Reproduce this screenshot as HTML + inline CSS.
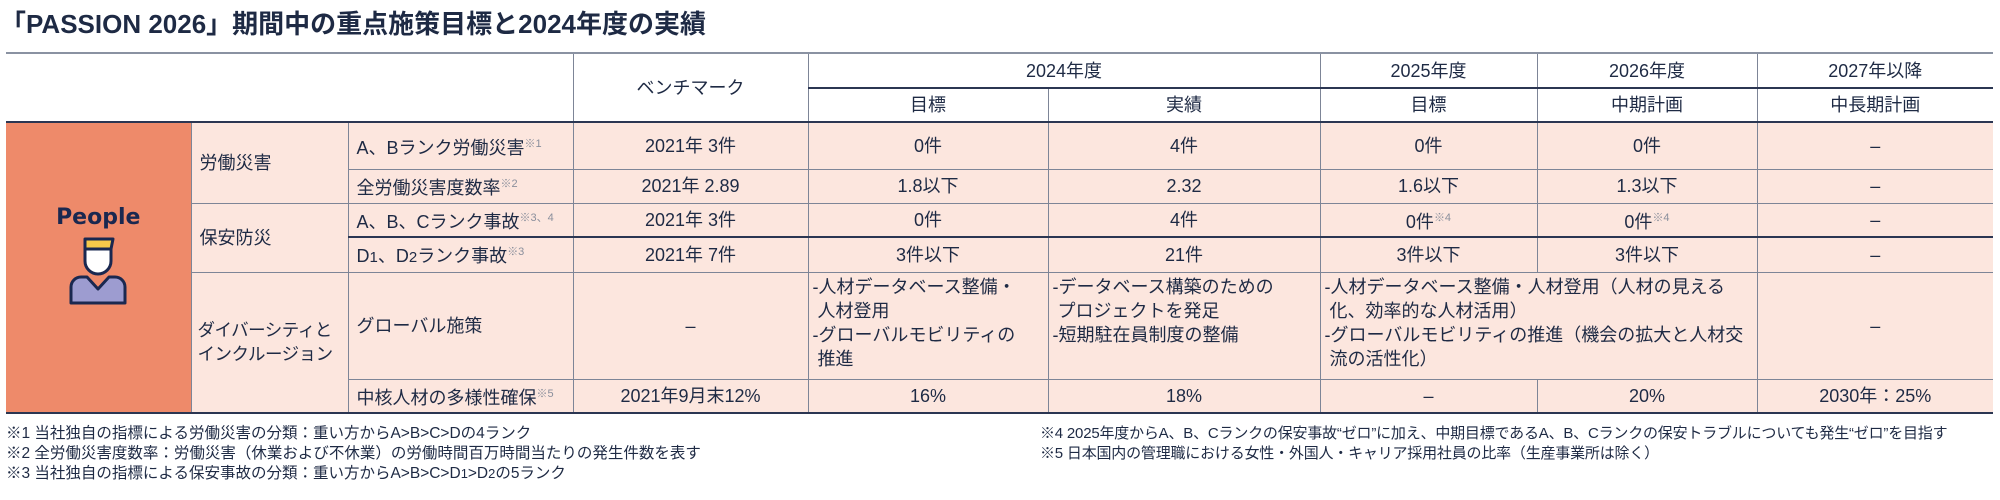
<!DOCTYPE html>
<html><head><meta charset="utf-8"><style>
*{margin:0;padding:0;box-sizing:border-box}
body{width:2000px;height:500px;background:#fff;font-family:"Liberation Sans","Noto Sans CJK JP",sans-serif;color:#1e2a44;position:relative;overflow:hidden}
.title{position:absolute;left:0px;top:4px;font-size:26px;font-weight:bold;white-space:nowrap}
table{position:absolute;left:6px;top:52px;border-collapse:collapse;table-layout:fixed;font-size:18px}
td{border:1px solid #7d8597;text-align:center;vertical-align:middle;padding:0 6px;line-height:22px;white-space:nowrap;overflow:hidden}
tr.h td{background:#fff}
tr.h1 td{border-top:2px solid #8a92a2}
tr.h2 td{border-bottom:2px solid #2b3652;border-top:2px solid #2b3652}
.b td{background:#fce6de}
td.l{text-align:left;padding-left:8px}
td.t{text-align:left;vertical-align:top;padding-top:2px;padding-left:4px;white-space:normal;line-height:24px}
td.ppl{background:#ee8a6a;border-bottom:2px solid #2b3652}
tr.last td{border-bottom:2px solid #2b3652}
tr.dk td{border-top:2px solid #2b3652}
sup{font-size:11px;color:#8a8f9c;vertical-align:7px}
.fn{position:absolute;font-size:15.5px;line-height:20px;white-space:nowrap}
</style></head><body>
<div class="title">「PASSION 2026」期間中の重点施策目標と2024年度の実績</div>
<table>
<colgroup><col style="width:185px"><col style="width:157px"><col style="width:225px"><col style="width:235px"><col style="width:240px"><col style="width:272px"><col style="width:217px"><col style="width:220px"><col style="width:236px"></colgroup>
<tr class="h h1" style="height:35px"><td colspan="3" rowspan="2" style="border-left:none;border-bottom:2px solid #2b3652"></td><td rowspan="2" style="border-bottom:2px solid #2b3652">ベンチマーク</td><td colspan="2">2024年度</td><td>2025年度</td><td>2026年度</td><td style="border-right:none">2027年以降</td></tr>
<tr class="h h2" style="height:34px"><td>目標</td><td>実績</td><td>目標</td><td>中期計画</td><td style="border-right:none">中長期計画</td></tr>
<tr class="b" style="height:47px"><td class="ppl" rowspan="6" style="border-left:none;vertical-align:top;padding-top:84px">
<div style="font-weight:bold;font-size:22px;color:#1a2850;font-family:'DejaVu Sans','Liberation Sans',sans-serif">People</div>
<svg width="70" height="75" viewBox="0 0 70 75" style="margin-top:6px"><path d="M22 4 H50 L48 14 H22 Z" fill="#f6c94a" stroke="#1a2850" stroke-width="3" stroke-linejoin="round"/><path d="M22 14 H48 V26 A13 13 0 0 1 22 26 Z" fill="#fff" stroke="#1a2850" stroke-width="3"/><path d="M8 68 V52 A10 10 0 0 1 18 42 H24 L35 54 L46 42 H52 A10 10 0 0 1 62 52 V68 Z" fill="#9d9cd0" stroke="#1a2850" stroke-width="3" stroke-linejoin="round"/></svg>
</td><td class="l" rowspan="2">労働災害</td><td class="l">A、Bランク労働災害<sup>※1</sup></td><td>2021年 3件</td><td>0件</td><td>4件</td><td>0件</td><td>0件</td><td style="border-right:none">–</td></tr>
<tr class="b" style="height:34px"><td class="l">全労働災害度数率<sup>※2</sup></td><td>2021年 2.89</td><td>1.8以下</td><td>2.32</td><td>1.6以下</td><td>1.3以下</td><td style="border-right:none">–</td></tr>
<tr class="b" style="height:34px"><td class="l" rowspan="2">保安防災</td><td class="l">A、B、Cランク事故<sup>※3、4</sup></td><td>2021年 3件</td><td>0件</td><td>4件</td><td>0件<sup>※4</sup></td><td>0件<sup>※4</sup></td><td style="border-right:none">–</td></tr>
<tr class="b dk" style="height:35px"><td class="l">D<small>1</small>、D<small>2</small>ランク事故<sup>※3</sup></td><td>2021年 7件</td><td>3件以下</td><td>21件</td><td>3件以下</td><td>3件以下</td><td style="border-right:none">–</td></tr>
<tr class="b" style="height:107px"><td class="l" rowspan="2" style="padding-left:6px;font-size:17.5px;letter-spacing:-0.5px;line-height:24px;border-bottom:2px solid #2b3652">ダイバーシティと<br>インクルージョン</td><td class="l">グローバル施策</td><td>–</td>
<td class="t">-人材データベース整備・<br>&nbsp;人材登用<br>-グローバルモビリティの<br>&nbsp;推進</td>
<td class="t">-データベース構築のための<br>&nbsp;プロジェクトを発足<br>-短期駐在員制度の整備</td>
<td class="t" colspan="2">-人材データベース整備・人材登用（人材の見える<br>&nbsp;化、効率的な人材活用）<br>-グローバルモビリティの推進（機会の拡大と人材交<br>&nbsp;流の活性化）</td><td style="border-right:none">–</td></tr>
<tr class="b last" style="height:34px"><td class="l">中核人材の多様性確保<sup>※5</sup></td><td>2021年9月末12%</td><td>16%</td><td>18%</td><td>–</td><td>20%</td><td style="border-right:none">2030年：25%</td></tr>
</table>
<div class="fn" style="left:6px;top:424px">※1 当社独自の指標による労働災害の分類：重い方からA&gt;B&gt;C&gt;Dの4ランク<br>※2 全労働災害度数率：労働災害（休業および不休業）の労働時間百万時間当たりの発生件数を表す<br>※3 当社独自の指標による保安事故の分類：重い方からA&gt;B&gt;C&gt;D<small>1</small>&gt;D<small>2</small>の5ランク</div>
<div class="fn" style="left:1040px;top:424px;font-size:15px;letter-spacing:-0.2px">※4 2025年度からA、B、Cランクの保安事故“ゼロ”に加え、中期目標であるA、B、Cランクの保安トラブルについても発生“ゼロ”を目指す<br>※5 日本国内の管理職における女性・外国人・キャリア採用社員の比率（生産事業所は除く）</div>
</body></html>
